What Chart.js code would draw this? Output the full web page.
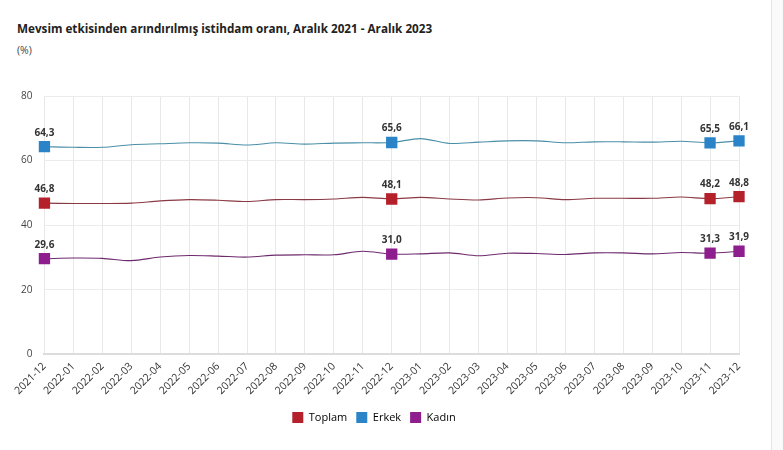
<!DOCTYPE html>
<html>
<head>
<meta charset="utf-8">
<script src="https://cdn.jsdelivr.net/npm/chart.js@4/dist/chart.umd.min.js"></script>
<style>
  html, body { margin: 0; padding: 0; background: #fff; }
  #wrap { position: relative; width: 783px; height: 450px; overflow: hidden; }
  #title { position: absolute; left: 17px; top: 20px; font: bold 11.7px "Open Sans", sans-serif; color: #222; white-space: nowrap; }
  #unit { position: absolute; left: 17px; top: 43px; font: 10.5px "Open Sans", sans-serif; color: #444; }
  #edge { position: absolute; left: 771px; top: 0; width: 12px; height: 450px; background: #fafafa; border-left: 1px solid #e6e6e6; }
  canvas { position: absolute; left: 0; top: 0; }
</style>
</head>
<body>
<div id="wrap">
  <div id="title">Mevsim etkisinden arındırılmış istihdam oranı, Aralık 2021 - Aralık 2023</div>
  <div id="unit">(%)</div>
  <div id="edge"></div>
  <canvas id="c" width="783" height="450"></canvas>
</div>
<script>
const categories = ["2021-12","2022-01","2022-02","2022-03","2022-04","2022-05","2022-06","2022-07","2022-08","2022-09","2022-10","2022-11","2022-12","2023-01","2023-02","2023-03","2023-04","2023-05","2023-06","2023-07","2023-08","2023-09","2023-10","2023-11","2023-12"];
const toplam = [46.8,46.7,46.7,46.8,47.5,47.9,47.7,47.3,47.9,47.9,48.1,48.6,48.1,48.6,48.1,47.8,48.4,48.5,47.9,48.3,48.3,48.3,48.7,48.2,48.8];
const erkek  = [64.3,64.1,64.1,64.9,65.2,65.5,65.4,64.8,65.5,65.1,65.4,65.5,65.6,66.8,65.3,65.7,66.1,66.1,65.5,65.8,65.8,65.7,66.0,65.5,66.1];
const kadin  = [29.6,29.8,29.7,29.0,30.1,30.6,30.4,30.1,30.7,30.8,30.8,31.9,31.0,31.1,31.4,30.5,31.3,31.2,30.9,31.4,31.4,31.1,31.5,31.3,31.9];
const yTicks = [0,20,40,60,80];
const labelledIdx = [0,12,23,24];

const fmt = v => v.toFixed(1).replace('.', ',');

const labelPlugin = {
  id: 'pointLabels',
  afterDatasetsDraw(chart) {
    const ctx = chart.ctx;
    ctx.save();
    ctx.font = 'bold 10px "Open Sans", sans-serif';
    ctx.fillStyle = '#333';
    ctx.textAlign = 'center';
    ctx.textBaseline = 'bottom';
    chart.data.datasets.forEach((ds, di) => {
      const meta = chart.getDatasetMeta(di);
      labelledIdx.forEach(i => {
        const p = meta.data[i];
        ctx.fillText(fmt(ds.data[i]), p.x, p.y - 9);
      });
    });
    ctx.restore();
  }
};

function ds(label, data, lineColor, pointColor) {
  return {
    label, data,
    borderColor: lineColor,
    backgroundColor: pointColor,
    borderWidth: 1.1,
    pointStyle: 'rect',
    pointRadius: ctx => labelledIdx.includes(ctx.dataIndex) ? 8 : 0,
    pointHoverRadius: 8,
    pointBackgroundColor: pointColor,
    pointBorderColor: pointColor,
    pointBorderWidth: 0,
    tension: 0.3,
    fill: false
  };
}

new Chart(document.getElementById('c'), {
  type: 'line',
  data: {
    labels: categories,
    datasets: [
      ds('Toplam', toplam, '#8a3a44', '#b5212b'),
      ds('Erkek', erkek, '#4a8fa8', '#2b84c8'),
      ds('Kadın', kadin, '#6e2a6e', '#8e1d8e')
    ]
  },
  options: {
    responsive: false,
    animation: false,
    layout: { padding: { left: 9, right: 44, top: 96, bottom: 17 } },
    plugins: {
      legend: {
        position: 'bottom',
        labels: {
          boxWidth: 11, boxHeight: 11, padding: 9,
          color: '#333',
          font: { family: '"Open Sans", sans-serif', size: 11 },
          generateLabels(chart) {
            return chart.data.datasets.map((d, i) => ({
              text: d.label, fillStyle: d.pointBackgroundColor, strokeStyle: d.pointBackgroundColor,
              lineWidth: 0, datasetIndex: i, hidden: false
            }));
          }
        }
      },
      tooltip: { enabled: false }
    },
    scales: {
      x: {
        offset: false,
        grid: { color: '#e8e8e8', drawTicks: false },
        border: { color: '#dcdcdc', width: 2 },
        ticks: {
          maxRotation: 45, minRotation: 45, autoSkip: false, padding: 6,
          color: '#333', font: { family: '"Open Sans", sans-serif', size: 10.5 }
        }
      },
      y: {
        min: 0, max: 80,
        afterBuildTicks(axis) { axis.ticks = yTicks.map(v => ({ value: v })); },
        grid: { color: '#ececec', drawTicks: false },
        border: { display: false },
        ticks: {
          padding: 12, color: '#444',
          font: { family: '"Open Sans", sans-serif', size: 10 }
        }
      }
    }
  },
  plugins: [labelPlugin]
});
</script>
</body>
</html>
